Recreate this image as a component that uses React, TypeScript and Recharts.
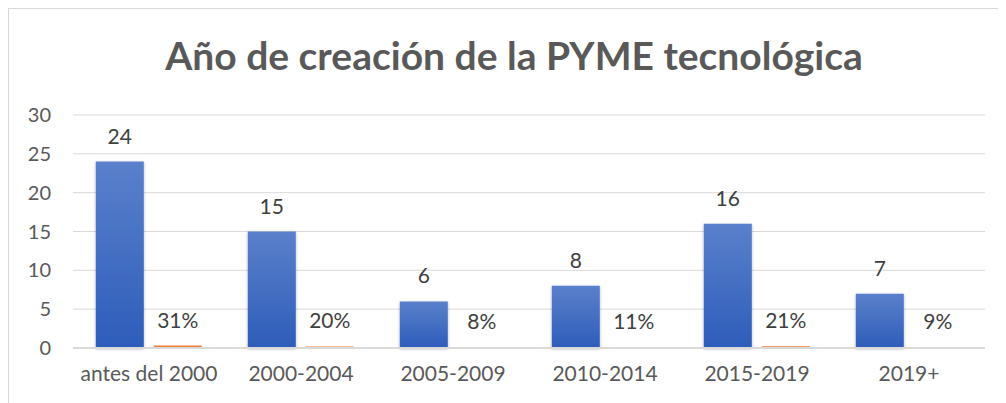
import { Bar, BarChart, CartesianGrid, LabelList, XAxis, YAxis } from "recharts";

const categories = ["antes del 2000", "2000-2004", "2005-2009", "2010-2014", "2015-2019", "2019+"];
const counts = [24, 15, 6, 8, 16, 7];
const shares = [0.31, 0.2, 0.08, 0.11, 0.21, 0.09];
const yTicks = [0, 5, 10, 15, 20, 25, 30];

const FONT = "Lato, 'Open Sans', sans-serif";

export default function App() {
  const data = categories.map((name, i) => ({
    name,
    count: counts[i],
    share: shares[i],
  }));

  return (
    <div
      style={{
        position: "relative",
        width: 997,
        height: 394,
        borderLeft: "1px solid #d9d9d9",
        borderTop: "1px solid #d9d9d9",
        fontFamily: FONT,
      }}
    >
      <div
        style={{
          position: "absolute",
          left: 0,
          width: 1010,
          top: 23,
          textAlign: "center",
          fontSize: 39,
          fontWeight: 700,
          color: "#595959",
        }}
      >
        Año de creación de la PYME tecnológica
      </div>
      <BarChart
        width={997}
        height={394}
        data={data}
        margin={{ top: 106, right: 21, left: 0, bottom: 15 }}
        barCategoryGap="15%"
        barGap={10}
      >
        <defs>
          <linearGradient id="blueGrad" x1="0" y1="0" x2="0" y2="1">
            <stop offset="0%" stopColor="#5b80cb" />
            <stop offset="100%" stopColor="#2d5db9" />
          </linearGradient>
          <filter id="shadow" x="-20%" y="-5%" width="140%" height="115%">
            <feDropShadow dx="0" dy="1" stdDeviation="1.5" floodColor="#000" floodOpacity="0.3" />
          </filter>
        </defs>
        <CartesianGrid vertical={false} stroke="#d9d9d9" />
        <XAxis
          dataKey="name"
          tickLine={false}
          axisLine={{ stroke: "#d9d9d9", strokeWidth: 2 }}
          tickSize={0}
          tickMargin={18}
          height={40}
          tick={{ fill: "#595959", fontSize: 21, fontFamily: FONT }}
        />
        <YAxis
          domain={[0, 30]}
          ticks={yTicks}
          width={64}
          axisLine={false}
          tickLine={false}
          tickSize={0}
          tickMargin={22}
          tick={{ fill: "#595959", fontSize: 20, fontFamily: FONT }}
        />
        <Bar dataKey="count" fill="url(#blueGrad)" filter="url(#shadow)" isAnimationActive={false}>
          <LabelList
            dataKey="count"
            position="top"
            offset={18}
            fill="#404040"
            fontSize={21}
            fontFamily={FONT}
          />
        </Bar>
        <Bar dataKey="share" fill="#ed7d31" isAnimationActive={false}>
          <LabelList
            dataKey="share"
            position="top"
            offset={18}
            fill="#404040"
            fontSize={21}
            fontFamily={FONT}
            formatter={(v: any) => `${Math.round(Number(v) * 100)}%`}
          />
        </Bar>
      </BarChart>
    </div>
  );
}
